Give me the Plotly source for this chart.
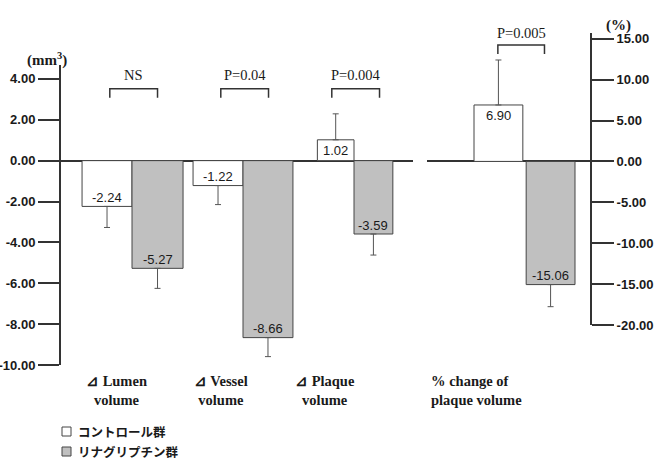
import plotly.graph_objects as go

# ---- data ----
categories = ["Lumen", "Vessel", "Plaque"]
cat_labels = ["⊿ Lumen<br>volume", "⊿ Vessel<br>volume", "⊿ Plaque<br>volume"]
control_vals = [-2.24, -1.22, 1.02]
linag_vals = [-5.27, -8.66, -3.59]
control_err = [1.03, 0.93, 1.27]
linag_err = [0.98, 0.93, 1.03]
p_labels = ["NS", "P=0.04", "P=0.004"]

pct_category = ["pct"]
pct_label = "% change of<br>plaque volume"
pct_control = [6.90]
pct_linag = [-15.06]
pct_control_err = [5.5]
pct_linag_err = [2.7]
pct_p = "P=0.005"

left_ticks = [4, 2, 0, -2, -4, -6, -8, -10]
right_ticks = [15, 10, 5, 0, -5, -10, -15, -20]
group_names = ["コントロール群", "リナグリプチン群"]

# ---- styles ----
W, H = 657, 460
ML, MR, MT, MB = 61, 67, 33, 95
PW, PH = W - ML - MR, H - MT - MB
CTRL_FILL = "#ffffff"
LIN_FILL = "#c0c0c0"
EDGE = "#444444"
ERRC = "#555555"
AX = "#333333"
TXT = "#1a1a1a"
SERIF = "Liberation Serif"
ctrl_w = [0.45, 0.45, 0.33]
lin_w = [0.46, 0.45, 0.35]


def up_down(vals, errs):
    up = [e if v >= 0 else 0 for v, e in zip(vals, errs)]
    dn = [e if v < 0 else 0 for v, e in zip(vals, errs)]
    return up, dn


fig = go.Figure()

cu, cd = up_down(control_vals, control_err)
lu, ld = up_down(linag_vals, linag_err)
fig.add_trace(go.Bar(
    x=categories, y=control_vals, width=ctrl_w, offset=[-w for w in ctrl_w],
    marker=dict(color=CTRL_FILL, line=dict(color=EDGE, width=1)),
    error_y=dict(type="data", symmetric=False, array=cu, arrayminus=cd,
                 color=ERRC, thickness=1, width=3),
    name=group_names[0], xaxis="x", yaxis="y", showlegend=False))
fig.add_trace(go.Bar(
    x=categories, y=linag_vals, width=lin_w, offset=[0] * 3,
    marker=dict(color=LIN_FILL, line=dict(color=EDGE, width=1)),
    error_y=dict(type="data", symmetric=False, array=lu, arrayminus=ld,
                 color=ERRC, thickness=1, width=3),
    name=group_names[1], xaxis="x", yaxis="y", showlegend=False))

pcu, pcd = up_down(pct_control, pct_control_err)
plu, pld = up_down(pct_linag, pct_linag_err)
fig.add_trace(go.Bar(
    x=pct_category, y=pct_control, width=[0.44], offset=[-0.455],
    marker=dict(color=CTRL_FILL, line=dict(color=EDGE, width=1)),
    error_y=dict(type="data", symmetric=False, array=pcu, arrayminus=pcd,
                 color=ERRC, thickness=1, width=3),
    name=group_names[0], xaxis="x2", yaxis="y2", showlegend=False))
fig.add_trace(go.Bar(
    x=pct_category, y=pct_linag, width=[0.44], offset=[0.015],
    marker=dict(color=LIN_FILL, line=dict(color=EDGE, width=1)),
    error_y=dict(type="data", symmetric=False, array=plu, arrayminus=pld,
                 color=ERRC, thickness=1, width=3),
    name=group_names[1], xaxis="x2", yaxis="y2", showlegend=False))

annotations = []
shapes = []
val_font = dict(family="Liberation Sans, Arial", size=13, color=TXT)


def value_label(xv, v, xref, yref):
    annotations.append(dict(x=xv, y=v, xref=xref, yref=yref, text=f"{v:.2f}",
                            showarrow=False, font=val_font,
                            yshift=(9 if v < 0 else -11)))


for i in range(len(categories)):
    value_label(i - ctrl_w[i] / 2, control_vals[i], "x", "y")
    value_label(i + lin_w[i] / 2, linag_vals[i], "x", "y")
value_label(-0.455 + 0.22, pct_control[0], "x2", "y2")
value_label(0.015 + 0.22, pct_linag[0], "x2", "y2")

p_font = dict(family=SERIF, size=14.5, color=TXT)
br = dict(color=AX, width=1.5)
for i, p in enumerate(p_labels):
    x0, x1 = i - 0.2, i + 0.23
    shapes.append(dict(type="path", xref="x", yref="y",
                       path=f"M {x0},3.08 L {x0},3.52 L {x1},3.52 L {x1},3.08",
                       line=br))
    annotations.append(dict(x=(x0 + x1) / 2, y=4.2, xref="x", yref="y", text=p,
                            showarrow=False, font=p_font))
x0, x1 = -0.24, 0.18
shapes.append(dict(type="path", xref="x2", yref="y2",
                   path=f"M {x0},13.13 L {x0},14.23 L {x1},14.23 L {x1},13.13",
                   line=br))
annotations.append(dict(x=(x0 + x1) / 2, y=15.7, xref="x2", yref="y2", text=pct_p,
                        showarrow=False, font=p_font))


def px_x(px):
    return (px - ML) / PW


def px_y(py):
    return (H - MB - py) / PH


lab_font = dict(family=SERIF, size=14.5, color=TXT, weight="bold")
for cx, lab in zip([116, 221, 325], cat_labels):
    annotations.append(dict(x=px_x(cx), y=px_y(371), xref="paper", yref="paper",
                            text=lab, showarrow=False, font=lab_font,
                            xanchor="center", yanchor="top", align="center"))
annotations.append(dict(x=px_x(429), y=px_y(371), xref="paper", yref="paper",
                        text=pct_label, showarrow=False, font=lab_font,
                        xanchor="left", yanchor="top", align="left"))

unit_font = dict(family=SERIF, size=15, color=TXT, weight="bold")
annotations.append(dict(x=px_x(25), y=px_y(48), xref="paper", yref="paper",
                        text="(mm<sup>3</sup>)", showarrow=False, font=unit_font))
annotations.append(dict(x=px_x(633), y=px_y(15), xref="paper", yref="paper",
                        text="(%)", showarrow=False, font=unit_font))

# legend (custom)
leg_font = dict(family="Noto Sans CJK JP", size=12.5, color=TXT, weight="bold")
for k, (name, fill) in enumerate(zip(group_names, [CTRL_FILL, LIN_FILL])):
    cy = 431.5 + 20 * k
    shapes.append(dict(type="rect", xref="paper", yref="paper",
                       x0=px_x(62), x1=px_x(71), y0=px_y(cy + 4.5), y1=px_y(cy - 4.5),
                       fillcolor=fill, line=dict(color=EDGE, width=1)))
    annotations.append(dict(x=px_x(76), y=px_y(cy), xref="paper", yref="paper",
                            text=name, showarrow=False, font=leg_font,
                            xanchor="left", yanchor="middle"))

tick_font = dict(family="Liberation Sans, Arial", size=13, color=TXT, weight="bold")
ctr = 524.5
fig.update_layout(
    width=W, height=H, margin=dict(l=ML, r=MR, t=MT, b=MB, autoexpand=False),
    paper_bgcolor="white", plot_bgcolor="rgba(0,0,0,0)",
    barmode="overlay", showlegend=False,
    xaxis=dict(domain=[0, px_x(413)], range=[(61 - 132) / 111, (413 - 132) / 111],
               showticklabels=False, ticks="", showgrid=False, zeroline=False,
               showline=False, fixedrange=True, automargin=False),
    yaxis=dict(domain=[0, px_y(65)], range=[-10, 4.68], tickvals=left_ticks,
               ticktext=[f"{t:.2f}" for t in left_ticks], tickfont=tick_font,
               ticks="outside", ticklen=21, tickwidth=1.5, tickcolor=AX,
               showline=True, linecolor=AX, linewidth=2, showgrid=False,
               zeroline=True, zerolinecolor=AX, zerolinewidth=1.5, anchor="x",
               automargin=False),
    xaxis2=dict(domain=[px_x(427), 1], range=[(427 - ctr) / 111, (590 - ctr) / 111],
                showticklabels=False, ticks="", showgrid=False, zeroline=False,
                showline=False, anchor="y2", automargin=False),
    yaxis2=dict(domain=[px_y(325), 1], range=[-20, 15.7], tickvals=right_ticks,
                ticktext=[f"{t:.2f}" for t in right_ticks], tickfont=tick_font,
                side="right", anchor="x2",
                ticks="outside", ticklen=22, tickwidth=1.5, tickcolor=AX,
                showline=True, linecolor=AX, linewidth=2, showgrid=False,
                zeroline=True, zerolinecolor=AX, zerolinewidth=1.5,
                automargin=False),
    annotations=annotations, shapes=shapes,
)

fig.write_html("out.html")
